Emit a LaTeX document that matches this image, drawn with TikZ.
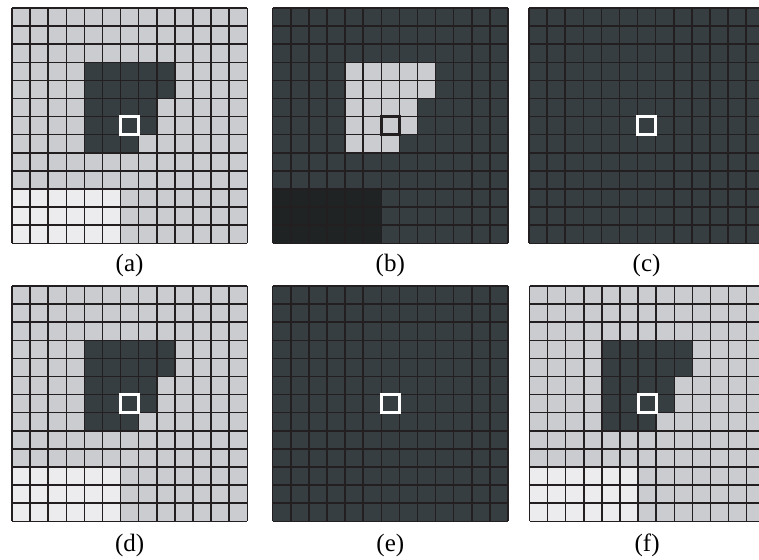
\documentclass[tikz,border=0pt]{standalone}
\usepackage{fontspec}
\setmainfont{Liberation Serif}
\usepackage{xcolor}
\usetikzlibrary{positioning}
\definecolor{lightcell}{HTML}{CBCCD0}
\definecolor{darkcell}{HTML}{373E42}
\definecolor{palecell}{HTML}{ECECEE}
\definecolor{blackcell}{HTML}{1F2324}
\definecolor{gridline}{HTML}{231F20}
% #1,#2 top-left corner (px), #3 background, #4 blob, #5 corner block, #6 marker
\newcommand{\gridpanel}[6]{%
  \begin{scope}[shift={(#1,#2)},x=9.05pt,y=-9.05pt]
    \fill[#3] (0,0) rectangle (13,13);
    \fill[#4] (4,3) -- (9,3) -- (9,5) -- (8,5) -- (8,7) -- (7,7) -- (7,8) -- (4,8) -- cycle;
    \fill[#5] (0,10) rectangle (6,13);
    \foreach \k in {0,...,13} {
      \draw[cellgrid] (\k,0) -- (\k,13);
      \draw[cellgrid] (0,\k) -- (13,\k);
    }
    \draw[marker,#6] (6,6) rectangle (7,7);
  \end{scope}}

\begin{document}
\begin{tikzpicture}[
    x=0.5pt,y=-0.5pt,
    font=\fontsize{12.5}{15}\selectfont,
    cellgrid/.style={gridline,line width=0.75pt},
    marker/.style={line width=1.5pt},
    caption/.style={inner sep=0pt}
  ]
    \useasboundingbox (0,0) rectangle (759,559);
    \clip (0,0) rectangle (759,559);

    \gridpanel{12}{8}{lightcell}{darkcell}{palecell}{white}
    \gridpanel{272.7}{8}{darkcell}{lightcell}{blackcell}{gridline}
    \gridpanel{529}{8}{darkcell}{darkcell}{darkcell}{white}
    \gridpanel{12}{286}{lightcell}{darkcell}{palecell}{white}
    \gridpanel{272.7}{286}{darkcell}{darkcell}{darkcell}{white}
    \gridpanel{529.5}{286}{lightcell}{darkcell}{palecell}{white}

    \node[caption] (capa) at (129.6,265) {(a)};
    \node[caption] (capb) at (390.3,265) {(b)};
    \node[caption] (capc) at (646.6,265) {(c)};
    \node[caption] (capd) at (129.6,545) {(d)};
    \node[caption] (cape) at (390.3,545) {(e)};
    \node[caption] (capf) at (647.1,545) {(f)};
  \end{tikzpicture}
\end{document}
